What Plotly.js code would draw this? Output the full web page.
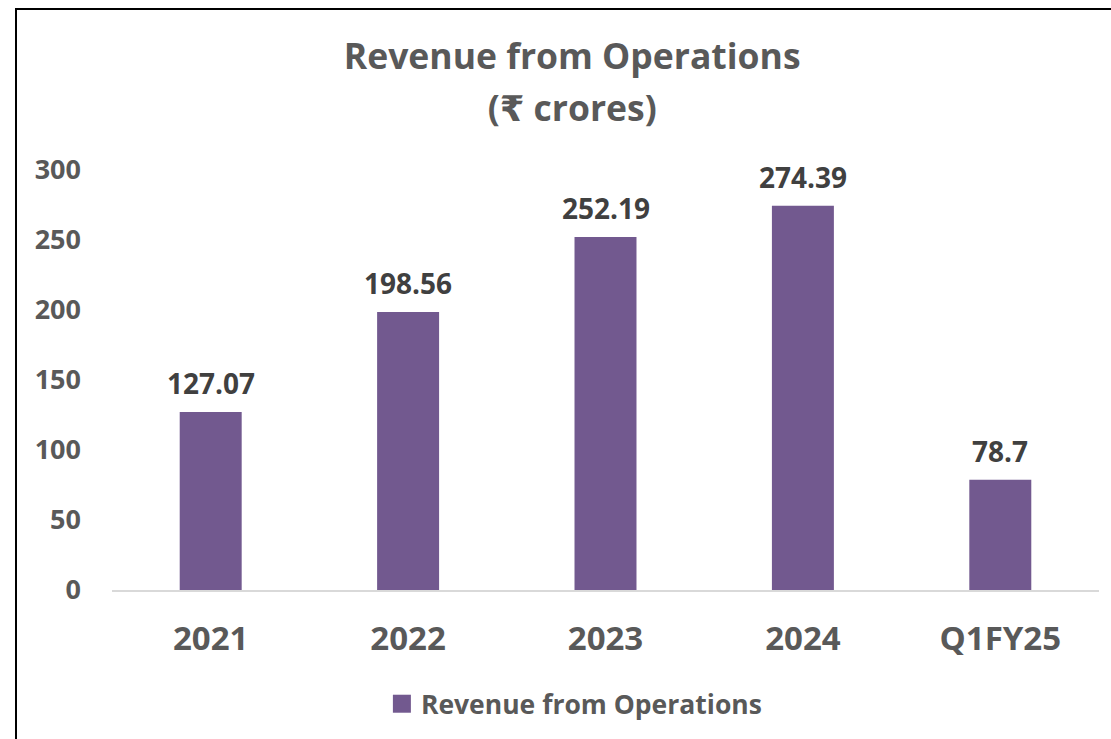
<!DOCTYPE html>
<html>
<head>
<meta charset="utf-8">
<script src="https://cdn.plot.ly/plotly-3.0.1.min.js"></script>
<style>
  html, body { margin: 0; padding: 0; background: #fff; }
  #chart { width: 1111px; height: 739px; position: absolute; left: 0; top: 0; }
  #frame { position: absolute; left: 15px; top: 8px; width: 1200px; height: 800px;
           border-left: 2px solid #000; border-top: 2px solid #000; pointer-events: none; }
</style>
</head>
<body>
<div id="chart"></div>
<div id="frame"></div>
<script>
const categories = ["2021", "2022", "2023", "2024", "Q1FY25"];
const revenue = [127.07, 198.56, 252.19, 274.39, 78.7];
const valueLabels = ["127.07", "198.56", "252.19", "274.39", "78.7"];
const yTicks = [0, 50, 100, 150, 200, 250, 300];
const seriesName = "Revenue from Operations";
const titleLines = ["Revenue from Operations", "(₹ crores)"];

const fontFam = "'Open Sans', 'DejaVu Sans', sans-serif";

const trace = {
  type: "bar",
  x: categories,
  y: revenue,
  name: seriesName,
  cliponaxis: false,
  marker: { color: "#72598F" },
  hoverinfo: "x+y"
};

// value labels placed through the category axis (by category index) above each bar
const labelAnnotations = categories.map(function (c, i) {
  return {
    x: i,
    y: revenue[i],
    xref: "x",
    yref: "y",
    text: "<b>" + valueLabels[i] + "</b>",
    showarrow: false,
    xanchor: "center",
    yanchor: "bottom",
    yshift: 8,
    font: { family: fontFam, size: 28, color: "#404040" }
  };
});

const layout = {
  width: 1111,
  height: 739,
  margin: { l: 112, r: 12, t: 170, b: 149 },
  paper_bgcolor: "#ffffff",
  plot_bgcolor: "#ffffff",
  bargap: 0.686,
  title: {
    text: titleLines.map(function (t) {
      return "<span style='font-size:35.5px'><b>" + t + "</b></span>";
    }).join("<br>"),
    x: 0.515,
    xanchor: "center",
    y: 1 - 69 / 739,
    yanchor: "top",
    yref: "container",
    font: { family: fontFam, size: 40, color: "#595959" }
  },
  annotations: labelAnnotations,
  xaxis: {
    type: "category",
    categoryorder: "array",
    categoryarray: categories,
    range: [-0.5, categories.length - 0.5],
    showline: true,
    linecolor: "#D9D9D9",
    linewidth: 2,
    showgrid: false,
    zeroline: false,
    ticks: "",
    tickfont: { family: fontFam, size: 33, color: "#595959", weight: "bold" },
    ticklabelstandoff: 18
  },
  yaxis: {
    range: [0, 300],
    tickvals: yTicks,
    ticktext: yTicks.map(String),
    showline: false,
    showgrid: false,
    zeroline: false,
    ticks: "",
    tickfont: { family: fontFam, size: 27, color: "#595959", weight: "bold" },
    ticklabelstandoff: 30
  },
  showlegend: true,
  legend: {
    orientation: "h",
    xref: "container",
    yref: "container",
    x: 0.517,
    xanchor: "center",
    y: 1 - 704 / 739,
    yanchor: "middle",
    font: { family: fontFam, size: 26.5, color: "#595959", weight: "bold" }
  }
};

Plotly.newPlot("chart", [trace], layout, { displayModeBar: false, staticPlot: true }).then(function () {
  document.querySelectorAll("#chart .legend .legendpoints path").forEach(function (p) {
    p.removeAttribute("transform");
    p.setAttribute("d", "M30,9H12V-9H30Z");
  });
});
</script>
</body>
</html>
